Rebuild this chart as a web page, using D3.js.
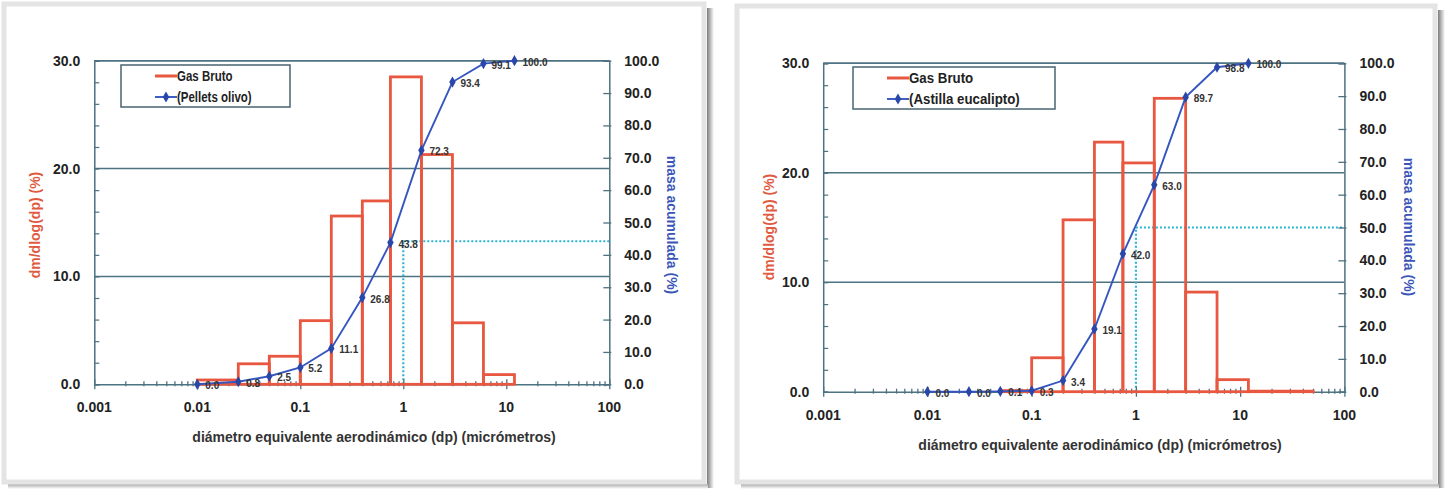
<!DOCTYPE html>
<html>
<head>
<meta charset="utf-8">
<script src="https://cdn.jsdelivr.net/npm/d3@7"></script>
<style>
  body { margin: 0; background: #fff; }
  svg { display: block; font-family: "Liberation Sans", Arial, sans-serif; }
  .tick-label { font-size: 14px; font-weight: bold; fill: #222; }
  .legend-text { font-size: 14px; font-weight: bold; fill: #222; }
  .pt-label { font-size: 10px; font-weight: bold; fill: #333; }
</style>
</head>
<body>
<svg id="chart" width="1449" height="489"></svg>
<script>
// ---- data ----
const xTickValues = [0.001, 0.01, 0.1, 1, 10, 100];
const xTickLabels = ["0.001", "0.01", "0.1", "1", "10", "100"];
const leftTickValues = [0, 10, 20, 30];
const rightTickValues = [0, 10, 20, 30, 40, 50, 60, 70, 80, 90, 100];

const olivoEdges = [0.01, 0.025, 0.05, 0.1, 0.2, 0.4, 0.75, 1.5, 3, 6, 12];
const olivoBars = [0.4, 1.9, 2.6, 5.9, 15.6, 17.0, 28.5, 21.3, 5.7, 0.9];
const olivoCum = [0.0, 0.8, 2.5, 5.2, 11.1, 26.8, 43.8, 72.3, 93.4, 99.1, 100.0];
const olivoMark = 44.2;

const eucaEdges = [0.01, 0.025, 0.05, 0.1, 0.2, 0.4, 0.75, 1.5, 3, 6, 12, 50];
const eucaBars = [0.0, 0.0, 0.1, 3.1, 15.7, 22.8, 20.9, 26.8, 9.1, 1.1, 0.05];
const eucaCum = [0.0, 0.0, 0.1, 0.3, 3.4, 19.1, 42.0, 63.0, 89.7, 98.8, 100.0];
const eucaMark = 50.0;

const barName = "Gas Bruto";
const olivoName = "(Pellets olivo)";
const eucaName = "(Astilla eucalipto)";
const xTitle = "diámetro equivalente aerodinámico (dp) (micrómetros)";
const yLeftTitle = "dm/dlog(dp) (%)";
const yRightTitle = "masa acumulada (%)";

const svg = d3.select("#chart");
const gridColor = "#4d7282";
const barColor = "#e8573f";
const lineColor = "#3556c0";
const dotColor = "#2a47a8";
const cyan = "#2fb4d2";

// shadow gradients for the two cards
const defs = svg.append("defs");
const gR = defs.append("linearGradient").attr("id", "shR").attr("x1", 0).attr("x2", 1).attr("y1", 0).attr("y2", 0);
gR.append("stop").attr("offset", "0%").attr("stop-color", "#7c7c7c");
gR.append("stop").attr("offset", "100%").attr("stop-color", "#fff");
const gB = defs.append("linearGradient").attr("id", "shB").attr("x1", 0).attr("x2", 0).attr("y1", 0).attr("y2", 1);
gB.append("stop").attr("offset", "0%").attr("stop-color", "#a8a8a8");
gB.append("stop").attr("offset", "100%").attr("stop-color", "#fff");

function drawCard(x, y, w, h) {
  svg.append("rect").attr("x", x + w + 3).attr("y", y + 4).attr("width", 7).attr("height", h + 2).attr("fill", "url(#shR)");
  svg.append("rect").attr("x", x + 4).attr("y", y + h + 2).attr("width", w).attr("height", 5).attr("fill", "url(#shB)");
  svg.append("rect").attr("x", x).attr("y", y).attr("width", w).attr("height", h)
    .attr("fill", "#fff").attr("stroke", "#e4e4e4").attr("stroke-width", 5);
}

function drawChart(cfg) {
  const x = d3.scaleLog().domain([0.001, 100]).range([cfg.x0, cfg.x1]);
  const yL = d3.scaleLinear().domain([0, 30]).range([cfg.yB, cfg.yT]);
  const yR = d3.scaleLinear().domain([0, 100]).range([cfg.yB, cfg.yT]);
  const g = svg.append("g");

  // gridlines
  g.selectAll(".grid").data(leftTickValues.slice(1)).join("line")
    .attr("x1", cfg.x0).attr("x2", cfg.x1)
    .attr("y1", d => yL(d)).attr("y2", d => yL(d))
    .attr("stroke", gridColor).attr("stroke-width", 1.5);

  // dotted d50 guide
  g.append("line").attr("x1", x(1)).attr("x2", x(1)).attr("y1", yR(0)).attr("y2", yR(cfg.mark))
    .attr("stroke", cyan).attr("stroke-width", 2.2).attr("stroke-dasharray", "2,2");
  g.append("line").attr("x1", x(1)).attr("x2", cfg.x1).attr("y1", yR(cfg.mark)).attr("y2", yR(cfg.mark))
    .attr("stroke", cyan).attr("stroke-width", 2.2).attr("stroke-dasharray", "2,2");

  // x axis (log ticks)
  const xAxis = d3.axisBottom(x).tickValues(x.ticks()).tickSize(0).tickFormat("");
  const xa = g.append("g").attr("transform", `translate(0,${cfg.yB})`).call(xAxis);
  xa.select(".domain").attr("stroke", gridColor).attr("stroke-width", 1.5);
  xa.selectAll(".tick line")
    .attr("y1", d => xTickValues.includes(d) ? -5 : -3)
    .attr("y2", d => xTickValues.includes(d) ? 5 : 2)
    .attr("stroke", gridColor).attr("stroke-width", 1.3);
  g.selectAll(".xl").data(xTickValues).join("text").attr("class", "tick-label")
    .attr("x", d => x(d)).attr("y", cfg.yB + 28).attr("text-anchor", "middle")
    .text((d, i) => xTickLabels[i]);

  // left axis
  const la = g.append("g").attr("transform", `translate(${cfg.x0},0)`)
    .call(d3.axisRight(yL).tickValues(d3.range(0, 31, 2)).tickSize(5).tickFormat(""));
  la.select(".domain").attr("stroke", gridColor).attr("stroke-width", 1.5);
  la.selectAll(".tick line").attr("stroke", gridColor).attr("stroke-width", 1.2);
  g.selectAll(".yl").data(leftTickValues).join("text").attr("class", "tick-label")
    .attr("x", cfg.x0 - 14).attr("y", d => yL(d) + 5).attr("text-anchor", "end")
    .text(d => d3.format(".1f")(d));

  // right axis
  const ra = g.append("g").attr("transform", `translate(${cfg.x1},0)`)
    .call(d3.axisLeft(yR).tickValues(rightTickValues).tickSize(6).tickFormat(""));
  ra.select(".domain").attr("stroke", gridColor).attr("stroke-width", 1.5);
  ra.selectAll(".tick line").attr("stroke", gridColor).attr("stroke-width", 1.3).attr("x2", 2).attr("x1", -6);
  g.selectAll(".yr").data(rightTickValues).join("text").attr("class", "tick-label")
    .attr("x", cfg.x1 + 15).attr("y", d => yR(d) + 5).attr("text-anchor", "start")
    .text(d => d3.format(".1f")(d));

  // top border line
  g.append("line").attr("x1", cfg.x0).attr("x2", cfg.x1).attr("y1", cfg.yT).attr("y2", cfg.yT)
    .attr("stroke", gridColor).attr("stroke-width", 1.5);

  // histogram bars
  const bins = cfg.bars.map((v, i) => ({ a: cfg.edges[i], b: cfg.edges[i + 1], v }));
  g.selectAll(".bar").data(bins).join("rect")
    .attr("x", d => x(d.a)).attr("width", d => x(d.b) - x(d.a))
    .attr("y", d => yL(d.v)).attr("height", d => yL(0) - yL(d.v))
    .attr("fill", "none").attr("stroke", barColor).attr("stroke-width", 2.8);

  // cumulative line
  const pts = cfg.cum.map((v, i) => ({ x: cfg.edges[i], v }));
  g.append("path").datum(pts)
    .attr("d", d3.line().x(d => x(d.x)).y(d => yR(d.v)))
    .attr("fill", "none").attr("stroke", lineColor).attr("stroke-width", 1.9);
  g.selectAll(".pt").data(pts).join("path")
    .attr("d", d3.symbol(d3.symbolDiamond, 36))
    .attr("transform", d => `translate(${x(d.x)},${yR(d.v)})`)
    .attr("fill", dotColor);
  g.selectAll(".ptl").data(pts).join("text").attr("class", "pt-label")
    .attr("x", d => x(d.x) + 8).attr("y", d => yR(d.v) + 5)
    .text(d => d3.format(".1f")(d.v));

  // axis titles
  g.append("text").attr("transform", `translate(${cfg.yl},${cfg.ty}) rotate(-90)`)
    .attr("text-anchor", "middle").attr("font-size", 14).attr("font-weight", "bold")
    .attr("fill", "#e05a40").text(yLeftTitle);
  g.append("text").attr("transform", `translate(${cfg.yr},${cfg.ty}) rotate(90)`)
    .attr("text-anchor", "middle").attr("font-size", 14).attr("font-weight", "bold")
    .attr("fill", "#3a55b8").text(yRightTitle);
  g.append("text").attr("x", cfg.tx).attr("y", cfg.yB + 58)
    .attr("text-anchor", "middle").attr("font-size", 14).attr("font-weight", "bold")
    .attr("fill", "#333").text(xTitle);

  // legend (condensed text like the original)
  const lg = g.append("g").attr("transform", `translate(${cfg.lx},${cfg.ly})`);
  lg.append("rect").attr("width", cfg.lw).attr("height", 42).attr("fill", "#fff")
    .attr("stroke", "#4a6470").attr("stroke-width", 1.5);
  lg.append("line").attr("x1", 34).attr("x2", 56).attr("y1", 11).attr("y2", 11)
    .attr("stroke", barColor).attr("stroke-width", 3);
  lg.append("text").attr("class", "legend-text").attr("transform", `translate(56,16) scale(${cfg.ls},1)`).text(barName);
  lg.append("line").attr("x1", 34).attr("x2", 56).attr("y1", 32).attr("y2", 32)
    .attr("stroke", lineColor).attr("stroke-width", 1.9);
  lg.append("path").attr("d", d3.symbol(d3.symbolDiamond, 36)).attr("transform", "translate(45,32)").attr("fill", dotColor);
  lg.append("text").attr("class", "legend-text").attr("transform", `translate(56,37) scale(${cfg.ls},1)`).text(cfg.name);
}

drawCard(4, 4, 700, 478);
drawCard(737, 6, 698, 476);

drawChart({ x0: 94.3, x1: 609.3, yT: 60.7, yB: 384.3, edges: olivoEdges, bars: olivoBars, cum: olivoCum,
  mark: olivoMark, name: olivoName, yl: 40, yr: 667, ty: 225, tx: 374, lx: 121, ly: 65, lw: 169, ls: 0.82 });
drawChart({ x0: 823.2, x1: 1344.4, yT: 63.3, yB: 391.7, edges: eucaEdges, bars: eucaBars, cum: eucaCum,
  mark: eucaMark, name: eucaName, yl: 774, yr: 1404, ty: 227, tx: 1100, lx: 853, ly: 67, lw: 202, ls: 0.95 });
</script>
</body>
</html>
